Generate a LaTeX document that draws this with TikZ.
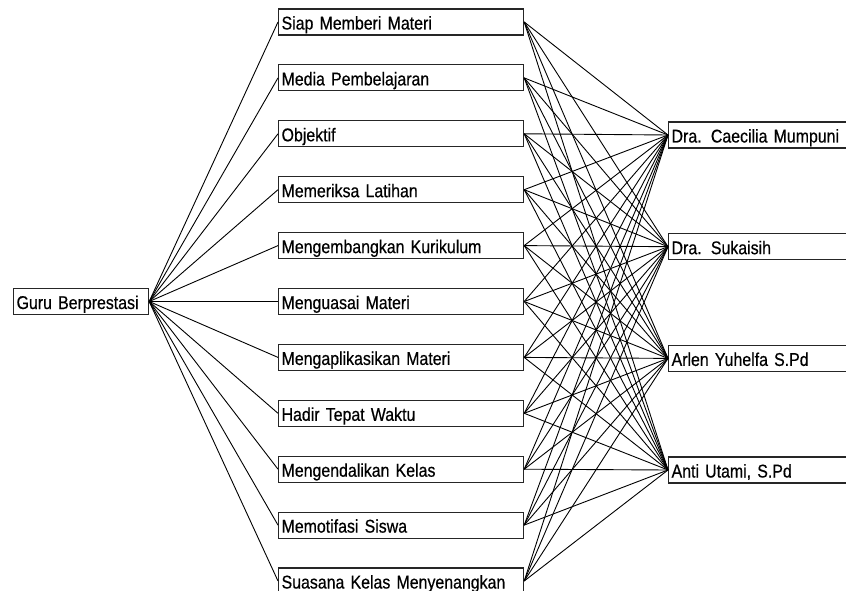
\documentclass[tikz,border=0pt]{standalone}
\usepackage{fontspec}
\setmainfont{Liberation Sans}[FakeStretch=0.86, FakeBold=0.5, WordSpace=0.7]
\usepackage{tikz}
\usetikzlibrary{positioning}

\begin{document}
\begin{tikzpicture}[
  x=1pt, y=-1pt,
  box/.style={
    rectangle, draw=black!85, line width=1.2pt,
    minimum height=26pt, inner sep=3pt, text height=17pt, text depth=2pt,
    font=\fontsize{18.5}{18.5}\selectfont,
    align=left, anchor=west
  },
  rootbox/.style={box, text width=129pt},
  midbox/.style={box, text width=239pt},
  rightbox/.style={box, text width=200pt},
  link/.style={line width=0.9pt}
]
  \useasboundingbox (0,0) rectangle (846,591);
  \clip (0,0) rectangle (846,591);

  % Root node
  \node[rootbox] (guru) at (13,301.5) {Guru Berprestasi};

  % Criteria
  \node[midbox] (c1) at (278,22) {Siap Memberi Materi};
  \node[midbox] (c2) at (278,77.9) {Media Pembelajaran};
  \node[midbox] (c3) at (278,133.8) {Objektif};
  \node[midbox] (c4) at (278,189.7) {Memeriksa Latihan};
  \node[midbox] (c5) at (278,245.6) {Mengembangkan Kurikulum};
  \node[midbox] (c6) at (278,301.5) {Menguasai Materi};
  \node[midbox] (c7) at (278,357.4) {Mengaplikasikan Materi};
  \node[midbox] (c8) at (278,413.3) {Hadir Tepat Waktu};
  \node[midbox] (c9) at (278,469.2) {Mengendalikan Kelas};
  \node[midbox] (c10) at (278,525.1) {Memotifasi Siswa};
  \node[midbox] (c11) at (278,581) {Suasana Kelas Menyenangkan};

  % Alternatives
  \node[rightbox] (a1) at (668,135) {Dra. Caecilia Mumpuni};
  \node[rightbox] (a2) at (668,246.7) {Dra. Sukaisih};
  \node[rightbox] (a3) at (668,358.4) {Arlen Yuhelfa S.Pd};
  \node[rightbox] (a4) at (668,470) {Anti Utami, S.Pd};

  % Links
  \foreach \c in {1,...,11} {
    \draw[link] (guru.east) -- (c\c.west);
    \foreach \a in {1,...,4}
      \draw[link] (c\c.east) -- (a\a.west);
  }
\end{tikzpicture}
\end{document}
